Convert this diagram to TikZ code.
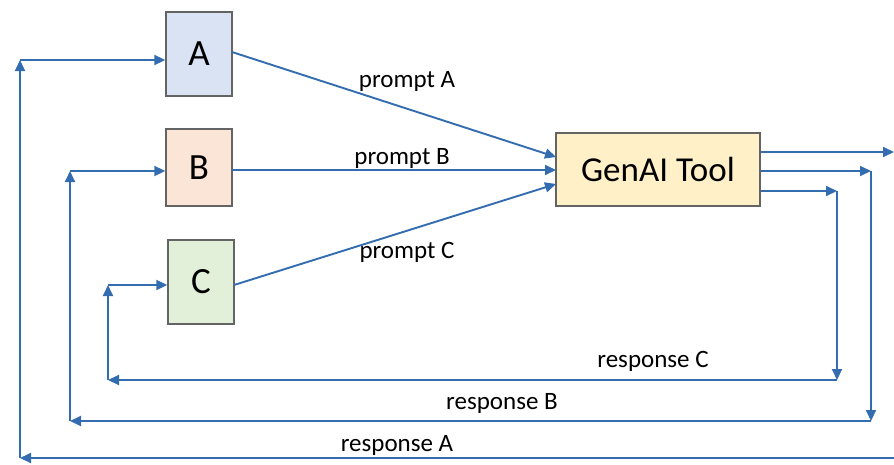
\documentclass[tikz,border=0pt]{standalone}
\usepackage{fontspec}
\setmainfont{Carlito}
\usetikzlibrary{arrows.meta}
\definecolor{lineblue}{RGB}{52,108,176}
\definecolor{boxgrey}{RGB}{100,100,100}
\definecolor{fillA}{RGB}{218,227,243}
\definecolor{fillB}{RGB}{251,229,214}
\definecolor{fillC}{RGB}{226,240,217}
\definecolor{fillG}{RGB}{255,240,200}
\tikzset{
  conn/.style={draw=lineblue, line width=1.9pt, -{Triangle[length=11pt,width=10pt]}},
  letterbox/.style={draw=boxgrey, line width=1.4pt, minimum width=66pt, minimum height=84pt, inner sep=0pt, font=\fontsize{37}{40}\selectfont},
  lbl/.style={font=\fontsize{25}{28}\selectfont, inner sep=0pt}
}
\begin{document}
\begin{tikzpicture}[x=1pt,y=-1pt]
\useasboundingbox (0,0) rectangle (894,464);
\node[letterbox, fill=fillA] (A) at (199,54) {A};
\node[letterbox, fill=fillB, minimum height=77pt] (B) at (199,167.5) {B};
\node[letterbox, fill=fillC] (C) at (201,282) {C};
\node[draw=boxgrey, line width=1.4pt, fill=fillG, minimum width=204pt, minimum height=73pt, inner sep=0pt, font=\fontsize{35}{40}\selectfont] (G) at (658,169.5) {GenAI Tool};

% prompts
\coordinate (pAs) at (232,52);
\coordinate (pAe) at (556,157);
\coordinate (pBs) at (232,170);
\coordinate (pBe) at (556,170);
\coordinate (pCs) at (234,285);
\coordinate (pCe) at (556,184);
\draw[conn] (pAs) -- (pAe);
\draw[conn] (pBs) -- (pBe);
\draw[conn] (pCs) -- (pCe);
\node[lbl] (lpA) at (407,81) {prompt A};
\node[lbl] (lpB) at (402,158) {prompt B};
\node[lbl] (lpC) at (407,252) {prompt C};

% outputs
\coordinate (oA) at (894,152);
\coordinate (oB) at (871,171);
\coordinate (oC) at (837,191);
\draw[conn] (G.east |- oA) -- (oA);
\draw[conn] (G.east |- oB) -- (oB);
\draw[conn] (G.east |- oC) -- (oC);

% response C
\coordinate (rCr) at (837,380);
\coordinate (rCl) at (108,380);
\coordinate (rCt) at (108,285);
\draw[conn] (oC) -- (rCr);
\draw[conn] (rCr) -- (rCl);
\draw[conn] (rCl) -- (rCt);
\draw[conn] (rCt) -- (C.west |- rCt);
\node[lbl] (lrC) at (653,361) {response C};

% response B
\coordinate (rBr) at (871,421);
\coordinate (rBl) at (70,421);
\coordinate (rBt) at (70,171);
\draw[conn] (oB) -- (rBr);
\draw[conn] (rBr) -- (rBl);
\draw[conn] (rBl) -- (rBt);
\draw[conn] (rBt) -- (B.west |- rBt);
\node[lbl] (lrB) at (502,403) {response B};

% response A
\coordinate (rAr) at (894,458);
\coordinate (rAl) at (20,458);
\coordinate (rAt) at (20,60);
\draw[conn] (rAr) -- (rAl);
\draw[conn] (rAl) -- (rAt);
\draw[conn] (rAt) -- (A.west |- rAt);
\node[lbl] (lrA) at (397,445) {response A};
\end{tikzpicture}
\end{document}
